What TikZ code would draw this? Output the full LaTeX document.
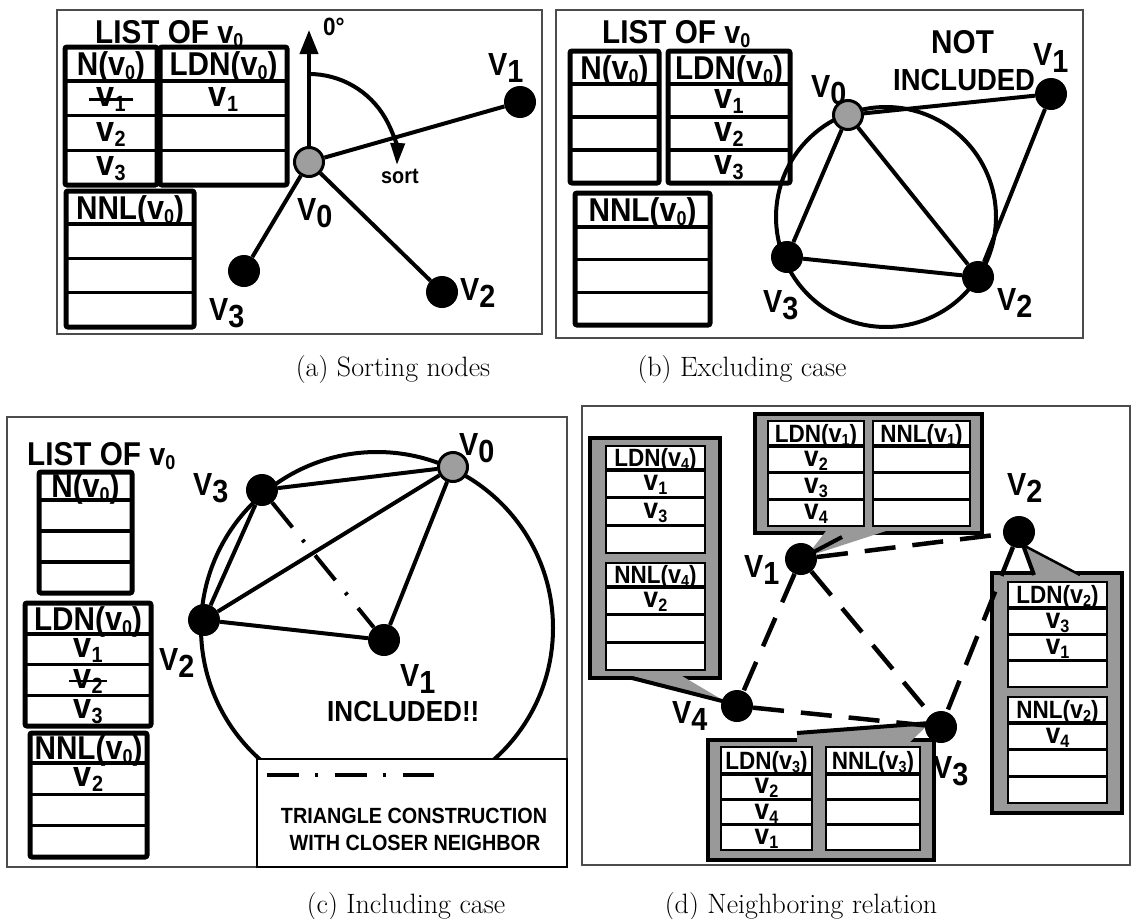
\documentclass[tikz,border=0pt]{standalone}
\usepackage{fontspec}
\newfontfamily\gb{Liberation Sans}[FakeStretch=0.9]
\usetikzlibrary{arrows.meta}

\newcommand\fs[1]{\fontsize{#1}{#1}\selectfont}
% lowercase v with a lowered index: size of v, index, drop, size of index
\newcommand\sv[4]{{\fs{#1}v}\raisebox{-#3pt}{\fs{#4}#2}}
\newcommand\tvRow[1]{\sv{36}{#1}{5}{22}}
\newcommand\tvHead[1]{\sv{34}{#1}{4}{20}}
\newcommand\tvDrow[1]{\sv{29}{#1}{4}{18}}
\newcommand\tvDhead[1]{\sv{26}{#1}{3}{16}}
\newcommand\Vlab[1]{V\raisebox{-7pt}{#1}}

% rules and text anchors of a list with a header and three rows
\newcommand\grid[7]{%
  \draw[#1] (#3,#6) -- (#5,#6)
            (#3,{#6+(#7-#6)/3}) -- (#5,{#6+(#7-#6)/3})
            (#3,{#6+2*(#7-#6)/3}) -- (#5,{#6+2*(#7-#6)/3});
  \coordinate (#2-h) at ({(#3+#5)/2},{(#4+#6)/2});
  \coordinate (#2-1) at ({(#3+#5)/2},{#6+(#7-#6)/6});
  \coordinate (#2-2) at ({(#3+#5)/2},{#6+(#7-#6)/2});
  \coordinate (#2-3) at ({(#3+#5)/2},{#6+5*(#7-#6)/6});
}
\newcommand\ltab[6]{%
  \draw[tabframe] (#2,#3) rectangle (#4,#6);
  \grid{tabrule}{#1}{#2}{#3}{#4}{#5}{#6}%
}
\newcommand\dcol[6]{%
  \draw[dcell] (#2,#3) rectangle (#4,#6);
  \grid{drule}{#1}{#2}{#3}{#4}{#5}{#6}%
}
\newcommand\gtext[6]{%
  \node[#1hdr] (#2-t) at (#2-h) {#3};
  \node[#1row] (#2-r1) at (#2-1) {#4};
  \node[#1row] (#2-r2) at (#2-2) {#5};
  \node[#1row] (#2-r3) at (#2-3) {#6};
}

\tikzset{
  panel/.style={draw=black!70, line width=1.2pt},
  tabframe/.style={draw=black, line width=5pt, rounded corners=2pt, fill=white},
  tabrule/.style={draw=black, line width=3.5pt},
  ahdr/.style={anchor=base, yshift=-11.5pt, inner sep=0pt, font=\gb\bfseries\fs{33}},
  arow/.style={anchor=base, yshift=-8pt, inner sep=0pt, font=\gb\bfseries\fs{36}},
  dhdr/.style={anchor=base, yshift=-8.5pt, inner sep=0pt, font=\gb\bfseries\fs{25}},
  drow/.style={anchor=base, yshift=-7pt, inner sep=0pt, font=\gb\bfseries\fs{29}},
  vlab/.style={anchor=base west, inner sep=0pt, font=\gb\bfseries\fs{32}},
  word/.style={anchor=base west, inner sep=0pt, font=\gb\bfseries\fs{#1}},
  vtx/.style={circle, fill=black, minimum size=32pt, inner sep=0pt},
  vtxg/.style={circle, fill=black!38, draw=black, line width=3pt, minimum size=29pt, inner sep=0pt},
  link/.style={line width=4pt},
  dlink/.style={line width=4.5pt, dash pattern=on 31pt off 17pt},
  ddot/.style={line width=4pt, dash pattern=on 32pt off 16pt on 3pt off 17pt},
  band/.style={fill=black!40, draw=black, line width=4pt},
  dcell/.style={fill=white, draw=black, line width=1.5pt},
  drule/.style={draw=black, line width=3.5pt},
  tail/.style={fill=black!40},
  strike/.style={line width=2.5pt},
  captxt/.style={anchor=base, inner sep=0pt, font=\fs{28}},
  legtxt/.style={anchor=base, inner sep=0pt, font=\gb\bfseries\fs{22}},
}

\begin{document}
\begin{tikzpicture}[x=1pt, y=-1pt]
\useasboundingbox (0,0) rectangle (1132,918);

% ---------------- (a) sorting nodes ----------------
\draw[panel] (57,10) rectangle (542,334);
\node[word=33] (aList) at (95,43) {LIST OF \sv{32}{0}{4}{20}};
\ltab{aN}{65}{47}{157}{81}{185}
\gtext{a}{aN}{N(\tvHead0)}{\tvRow1}{\tvRow2}{\tvRow3}
\draw[strike] ([xshift=-7pt]aN-r1.west) -- ([xshift=7pt]aN-r1.east);
\ltab{aL}{160}{47}{287}{81}{185}
\gtext{a}{aL}{LDN(\tvHead0)}{\tvRow1}{}{}
\ltab{aX}{66}{191}{194}{224}{327}
\gtext{a}{aX}{NNL(\tvHead0)}{}{}{}

\node[vtxg] (a0) at (309,162) {};
\node[vtx] (a1) at (520,102) {};
\node[vtx] (a2) at (442,292) {};
\node[vtx] (a3) at (244,271) {};
\coordinate (aUp) at (309,30);
\draw[link] (a0) -- (a1);
\draw[link] (a0) -- (a2);
\draw[link] (a0) -- (a3);
\draw[link, -{Triangle[length=24pt,width=18pt]}] (a0) -- (aUp);
\draw[link, -{Triangle[length=22pt,width=14pt]}] ([yshift=88pt]a0.center) arc[start angle=-90, end angle=2, radius=88];
\node[word=25] (aDeg) at (323,35) {0°};
\node[word=22] (aSort) at (381,183) {sort};
\node[vlab] (a0l) at (297,220) {\Vlab0};
\node[vlab] (a1l) at (488,75) {\Vlab1};
\node[vlab] (a2l) at (460,300) {\Vlab2};
\node[vlab] (a3l) at (209,320) {\Vlab3};
\node[captxt] (capA) at (393,376) {(a) Sorting nodes};

% ---------------- (b) excluding case ----------------
\draw[panel] (556,10) rectangle (1083,338);
\node[word=33] (bList) at (602,43) {LIST OF \sv{32}{0}{4}{20}};
\ltab{bN}{570}{51}{659}{84}{183}
\gtext{a}{bN}{N(\tvHead0)}{}{}{}
\ltab{bL}{668}{51}{790}{84}{183}
\gtext{a}{bL}{LDN(\tvHead0)}{\tvRow1}{\tvRow2}{\tvRow3}
\ltab{bX}{575}{193}{710}{227}{325}
\gtext{a}{bX}{NNL(\tvHead0)}{}{}{}

\draw[link] (886,217) circle[radius=110];
\node[vtxg] (b0) at (848,115) {};
\node[vtx] (b1) at (1051,94) {};
\node[vtx] (b2) at (978,277) {};
\node[vtx] (b3) at (787,257) {};
\draw[link] (b0) -- (b1);
\draw[link] (b0) -- (b2);
\draw[link] (b0) -- (b3);
\draw[link] (b3) -- (b2);
\draw[link] (b1) -- (b2);
\node[vlab] (b0l) at (811,97) {\Vlab0};
\node[vlab] (b1l) at (1033,65) {\Vlab1};
\node[vlab] (b2l) at (997,310) {\Vlab2};
\node[vlab] (b3l) at (763,312) {\Vlab3};
\node[word=33] (bNot) at (931,53) {NOT};
\node[word=30.5] (bInc) at (893,90) {INCLUDED};
\node[captxt] (capB) at (742,376) {(b) Excluding case};

% ---------------- (c) including case ----------------
\draw[panel] (7,417) rectangle (567,867);
\node[word=33] (cList) at (27,465) {LIST OF \sv{32}{0}{4}{20}};
\ltab{cN}{39}{472}{132}{500}{593}
\gtext{a}{cN}{N(\tvHead0)}{}{}{}
\ltab{cL}{25}{603}{151}{634}{726}
\gtext{a}{cL}{LDN(\tvHead0)}{\tvRow1}{\tvRow2}{\tvRow3}
\draw[strike] ([xshift=-4pt]cL-r2.west) -- ([xshift=4pt]cL-r2.east);
\ltab{cX}{30}{733}{147}{763}{857}
\gtext{a}{cX}{NNL(\tvHead0)}{\tvRow2}{}{}

\draw[link] (377,628) circle[radius=176];
\draw[fill=white, line width=1.5pt] (257,759) rectangle (567,867);
\node[vtxg] (c0) at (453,467) {};
\node[vtx] (c1) at (384,640) {};
\node[vtx] (c2) at (204,620) {};
\node[vtx] (c3) at (262,490) {};
\draw[link] (c0) -- (c3);
\draw[link] (c0) -- (c2);
\draw[link] (c0) -- (c1);
\draw[link] (c3) -- (c2);
\draw[link] (c2) -- (c1);
\draw[ddot] (c3) -- (c1);
\node[vlab] (c0l) at (459,455) {\Vlab0};
\node[vlab] (c1l) at (400,686) {\Vlab1};
\node[vlab] (c2l) at (159,670) {\Vlab2};
\node[vlab] (c3l) at (193,495) {\Vlab3};
\node[word=29] (cInc) at (327,721) {INCLUDED!!};
\coordinate (lgA) at (267,775);
\coordinate (lgB) at (434,775);
\draw[ddot] (lgA) -- (lgB);
\node[legtxt] (lg1) at (414,823) {TRIANGLE CONSTRUCTION};
\node[legtxt] (lg2) at (415,850) {WITH CLOSER NEIGHBOR};
\node[captxt] (capC) at (406,913) {(c) Including case};

% ---------------- (d) neighboring relation ----------------
\draw[panel] (582,406) rectangle (1130,865);

% list of v1
\draw[band] (755,414) rectangle (982,533);
\fill[tail] (826,531) -- (886,531) -- (806,557) -- cycle;
\draw[line width=4pt] (806,556) -- (842,537);
\dcol{dA}{768}{421}{864}{446}{526}
\gtext{d}{dA}{LDN(\tvDhead1)}{\tvDrow2}{\tvDrow3}{\tvDrow4}
\dcol{dB}{873}{421}{970}{446}{526}
\gtext{d}{dB}{NNL(\tvDhead1)}{}{}{}

% list of v4
\draw[band] (590,438) rectangle (720,678);
\fill[tail] (632,676) -- (682,676) -- (726,702) -- cycle;
\draw[line width=4pt] (632,678) -- (726,702);
\dcol{dC}{606}{446}{705}{470}{553}
\gtext{d}{dC}{LDN(\tvDhead4)}{\tvDrow1}{\tvDrow3}{}
\dcol{dD}{606}{563}{705}{587}{670}
\gtext{d}{dD}{NNL(\tvDhead4)}{\tvDrow2}{}{}

% list of v2
\draw[band] (992,573) rectangle (1122,813);
\fill[tail] (1023,545) -- (1034,575) -- (1080,575) -- cycle;
\draw[line width=4pt] (1023,545) -- (1034,575);
\draw[line width=2.5pt] (1023,545) -- (1080,575);
\dcol{dE}{1008}{582}{1107}{608}{687}
\gtext{d}{dE}{LDN(\tvDhead2)}{\tvDrow3}{\tvDrow1}{}
\dcol{dF}{1008}{697}{1107}{723}{803}
\gtext{d}{dF}{NNL(\tvDhead2)}{\tvDrow4}{}{}

% list of v3
\draw[band] (708,740) rectangle (934,860);
\fill[tail] (797,742) -- (797,733) -- (930,723) -- (910,742) -- cycle;
\draw[line width=4pt] (797,733) -- (930,723);
\dcol{dG}{721}{747}{812}{774}{850}
\gtext{d}{dG}{LDN(\tvDhead3)}{\tvDrow2}{\tvDrow4}{\tvDrow1}
\dcol{dH}{826}{747}{920}{774}{850}
\gtext{d}{dH}{NNL(\tvDhead3)}{}{}{}

\node[vtx] (d1) at (801,559) {};
\node[vtx] (d2) at (1019,532) {};
\node[vtx] (d3) at (941,727) {};
\node[vtx] (d4) at (737,706) {};
\draw[dlink] (d1) -- (d2);
\draw[dlink] (d1) -- (d4);
\draw[dlink] (d1) -- (d3);
\draw[dlink] (d2) -- (d3);
\draw[dlink] (d4) -- (d3);
\node[vlab] (d1l) at (744,577) {\Vlab1};
\node[vlab] (d2l) at (1007,495) {\Vlab2};
\node[vlab] (d3l) at (933,778) {\Vlab3};
\node[vlab] (d4l) at (672,723) {\Vlab4};
\node[captxt] (capD) at (801,913) {(d) Neighboring relation};
\end{tikzpicture}
\end{document}
